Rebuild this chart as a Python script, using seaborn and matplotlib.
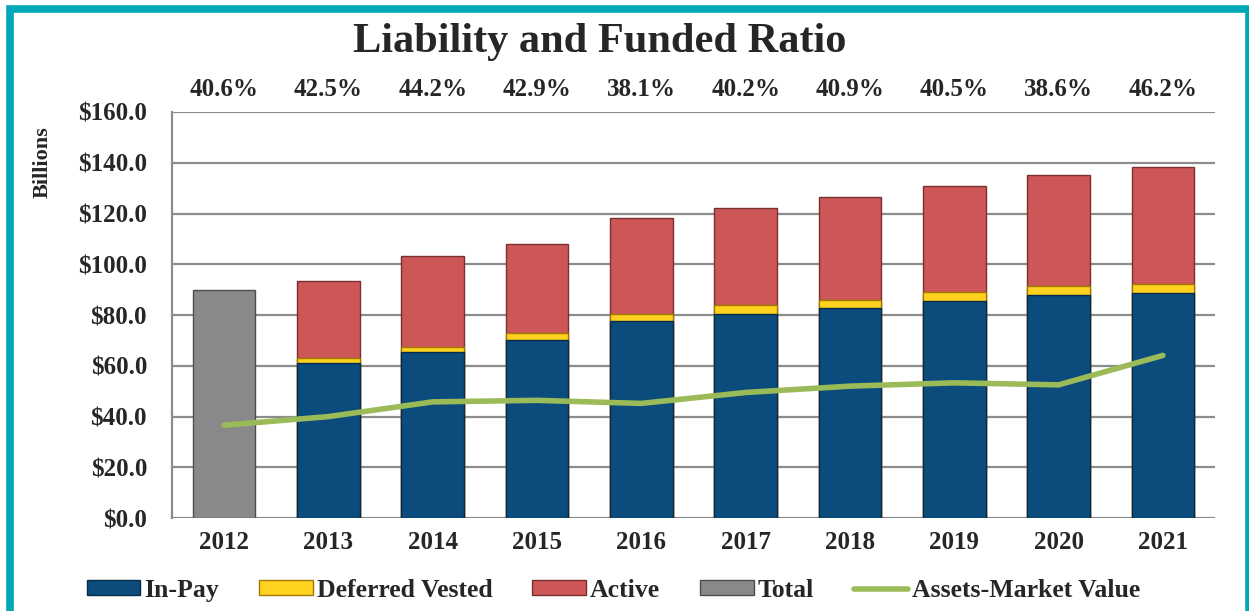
import numpy as np
import pandas as pd
import matplotlib.pyplot as plt
import seaborn as sns
from matplotlib.patches import Patch, Rectangle
from matplotlib.lines import Line2D
import matplotlib.transforms as mtransforms

# data (billions)
years = ["2012", "2013", "2014", "2015", "2016", "2017", "2018", "2019", "2020", "2021"]
in_pay = [np.nan, 61.0, 65.3, 70.3, 77.6, 80.6, 82.8, 85.7, 88.0, 88.7]
deferred_vested = [np.nan, 2.0, 2.3, 2.5, 3.0, 3.3, 3.2, 3.3, 3.3, 3.6]
active = [np.nan, 30.3, 35.8, 35.0, 37.7, 38.4, 40.6, 42.0, 43.9, 46.2]
total = [89.7, np.nan, np.nan, np.nan, np.nan, np.nan, np.nan, np.nan, np.nan, np.nan]
assets = [36.6, 40.0, 45.8, 46.4, 45.2, 49.5, 52.0, 53.3, 52.5, 64.1]
funded_ratio = ["40.6%", "42.5%", "44.2%", "42.9%", "38.1%", "40.2%", "40.9%", "40.5%", "38.6%", "46.2%"]

c_inpay = "#0B4C7C"
c_dv = "#FFD21F"
c_active = "#CD5656"
c_total = "#898989"
c_line = "#9BBB59"
c_frame = "#00A7B7"

df = pd.DataFrame({"year": years, "in_pay": in_pay, "dv": deferred_vested,
                   "active": active, "total": total, "assets": assets})
df["top_dv"] = df["in_pay"] + df["dv"]
df["top_active"] = df["top_dv"] + df["active"]

sns.set_style("white")
plt.rcParams["font.family"] = ["Liberation Serif", "DejaVu Serif"]
plt.rcParams["font.weight"] = "bold"

fig = plt.figure(figsize=(12.49, 6.11), dpi=100)
ax = fig.add_axes([0.1377, 0.152, 0.9728 - 0.1377, 0.8167 - 0.152])

bw = 0.6
# stacked bars: draw cumulative heights back to front
for col, color, edge in [("top_active", c_active, "#7a2f2f"),
                         ("top_dv", c_dv, "#A07A00"),
                         ("in_pay", c_inpay, "#062c4a"),
                         ("total", c_total, "#4d4d4d")]:
    sub = df.dropna(subset=[col])
    sns.barplot(data=sub, x="year", y=col, order=years, color=color,
                width=bw, edgecolor=edge, linewidth=1.0, saturation=1,
                errorbar=None, ax=ax, zorder=3)

sns.lineplot(x=np.arange(len(years)), y=df["assets"], color=c_line,
             linewidth=4, ax=ax, zorder=4)

ax.set_xlim(-0.5, len(years) - 0.5)
ax.set_ylim(0, 160)
ax.set_yticks(np.arange(0, 161, 20))
ax.set_yticklabels([f"${v:.1f}" for v in np.arange(0, 161, 20)])
ax.set_xticks(range(len(years)))
ax.set_xticklabels(years)
ax.set_xlabel("")
ax.set_ylabel("")
ax.grid(axis="y", color="#8c8c8c", linewidth=1.6, zorder=0)
ax.set_axisbelow(True)
for s in ["top", "right", "bottom"]:
    ax.spines[s].set_visible(False)
ax.spines["left"].set_color("#8c8c8c")
ax.spines["left"].set_linewidth(1.6)
ax.tick_params(axis="y", length=6, width=1.6, color="#8c8c8c", labelsize=18, pad=12)
ax.tick_params(axis="x", length=0, labelsize=18, pad=9)
for lab in ax.get_xticklabels() + ax.get_yticklabels():
    lab.set_fontweight("bold")

# funded ratio labels above the plot
trans = mtransforms.blended_transform_factory(ax.transData, ax.transAxes)
for i, txt in enumerate(funded_ratio):
    ax.text(i, 1.056, txt, transform=trans, ha="center", va="center",
            fontsize=18, fontweight="bold")

fig.text(0.48, 0.932, "Liability and Funded Ratio", ha="center", va="center",
         fontsize=30.5, fontweight="bold")
fig.text(0.034, 0.735, "Billions", rotation=90, ha="center", va="center",
         fontsize=16, fontweight="bold")

handles = [Patch(facecolor=c_inpay, edgecolor="#062c4a"),
           Patch(facecolor=c_dv, edgecolor="#A07A00"),
           Patch(facecolor=c_active, edgecolor="#7a2f2f"),
           Patch(facecolor=c_total, edgecolor="#4d4d4d"),
           Line2D([0], [0], color=c_line, linewidth=4)]
labels = ["In-Pay", "Deferred Vested", "Active", "Total", "Assets-Market Value"]
fig.legend(handles, labels, loc="center", bbox_to_anchor=(0.491, 0.034), ncol=5,
           frameon=False, prop={"size": 18.5, "weight": "bold"},
           handlelength=2.1, handleheight=0.5, handletextpad=0.15, columnspacing=1.55)

# teal frame around the chart
fig.patches.append(Rectangle((0.0084, -0.05), 0.9912, 0.9853 + 0.05,
                             transform=fig.transFigure, fill=False,
                             edgecolor=c_frame, linewidth=5.5))

fig.savefig("out.png", dpi=100)
